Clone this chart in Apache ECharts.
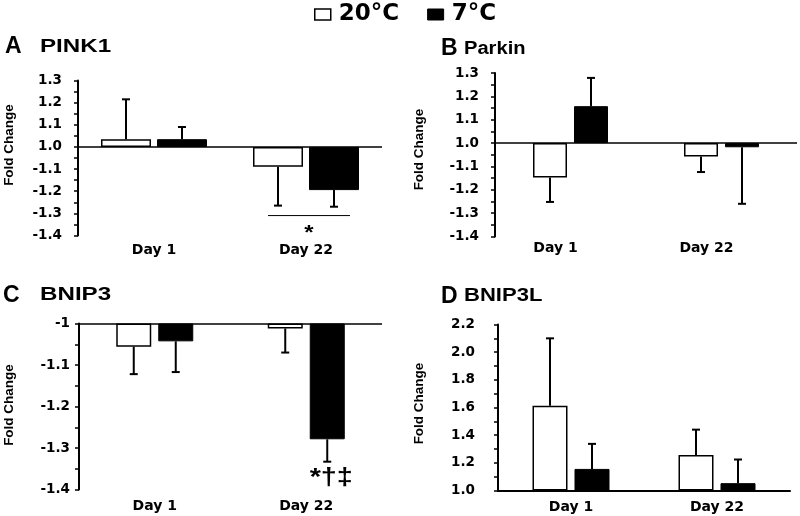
<!DOCTYPE html>
<html><head><meta charset="utf-8">
<script src="https://cdn.jsdelivr.net/npm/echarts@6/dist/echarts.min.js"></script>
<style>html,body{margin:0;padding:0;background:#fff}#c{width:800px;height:516px}</style>
</head><body><div id="c"></div>
<script>
// ---- data (fold-change values) ----
const categories = ['Day 1', 'Day 22'];
const seriesNames = ['20°C', '7°C'];

const pink1Warm = [1.035, -1.09];
const pink1WarmErr = [1.215, -1.265];
const pink1Cold = [1.035, -1.195];
const pink1ColdErr = [1.09, -1.27];

const parkinWarm = [-1.147, -1.057];
const parkinWarmErr = [-1.252, -1.124];
const parkinCold = [1.158, -1.018];
const parkinColdErr = [1.279, -1.26];

const bnip3Warm = [-1.056, -1.012];
const bnip3WarmErr = [-1.122, -1.07];
const bnip3Cold = [-1.043, -1.279];
const bnip3ColdErr = [-1.117, -1.333];

const bnip3lWarm = [1.613, 1.257];
const bnip3lWarmErr = [2.10, 1.44];
const bnip3lCold = [1.156, 1.053];
const bnip3lColdErr = [1.337, 1.224];

const tickLabelsAB = ['-1.4', '-1.3', '-1.2', '-1.1', '1.0', '1.1', '1.2', '1.3'];
const tickLabelsC = ['-1.4', '-1.3', '-1.2', '-1.1', '-1'];
const tickLabelsD = ['1.0', '1.2', '1.4', '1.6', '1.8', '2.0', '2.2'];

// significance annotations
const pink1SigLine = -1.31;
const pink1SigMark = '*';
const pink1SigMarkY = -1.375;
const bnip3SigMark = '*†‡';
const bnip3SigMarkY = -1.373;

// fold change -> linear plot position (1.0 / -1.0 both at 0)
function toPos(f) { return f >= 1 ? (f - 1) * 100 : (f + 1) * 100; }

const panels = [
  { letter: 'A', gene: 'PINK1', geneScale: 1.38, lx: 5, ly: 47, gx: 40, fc: [9, 145],
    warm: pink1Warm, warmErr: pink1WarmErr, cold: pink1Cold, coldErr: pink1ColdErr,
    ticks: tickLabelsAB, min: -40, max: 30, interval: 10,
    grid: { left: 78, top: 80.5, width: 304, height: 155 }, barWidth: 50, gapPx: 6,
    labelMargin: 16, catMargin: 8, catPad: 0, baseline: true },
  { letter: 'B', gene: 'Parkin', geneScale: 1.15, lx: 441, ly: 49, gx: 464, fc: [419, 149.5],
    warm: parkinWarm, warmErr: parkinWarmErr, cold: parkinCold, coldErr: parkinColdErr,
    ticks: tickLabelsAB, min: -40, max: 30, interval: 10,
    grid: { left: 495, top: 73, width: 302, height: 163.5 }, barWidth: 34, gapPx: 7,
    labelMargin: 16, catMargin: 5, catPad: 30, baseline: true },
  { letter: 'C', gene: 'BNIP3', geneScale: 1.38, lx: 3, ly: 295.5, gx: 40, fc: [9, 405],
    warm: bnip3Warm, warmErr: bnip3WarmErr, cold: bnip3Cold, coldErr: bnip3ColdErr,
    ticks: tickLabelsC, min: -40, max: 0, interval: 10,
    grid: { left: 79, top: 323.5, width: 303, height: 166 }, barWidth: 35, gapPx: 7,
    labelMargin: 9, catMargin: 10, catPad: 0, baseline: true },
  { letter: 'D', gene: 'BNIP3L', geneScale: 1.26, lx: 441, ly: 296.5, gx: 464, fc: [419, 403.5],
    warm: bnip3lWarm, warmErr: bnip3lWarmErr, cold: bnip3lCold, coldErr: bnip3lColdErr,
    ticks: tickLabelsD, min: 0, max: 120, interval: 20,
    grid: { left: 498, top: 324.5, width: 292, height: 166 }, barWidth: 35, gapPx: 7,
    labelMargin: 23, catMargin: 10, catPad: 0, baseline: false }
];

const grids = [], xAxes = [], yAxes = [], series = [], graphics = [];
const tickFont = { fontFamily: 'DejaVu Sans', fontWeight: 'bold', color: '#000' };

panels.forEach((p, i) => {
  grids.push(Object.assign({ containLabel: false }, p.grid));
  xAxes.push({
    type: 'category', gridIndex: i, data: categories,
    axisLine: { show: !p.baseline, onZero: false, lineStyle: { color: '#000', width: 2 } },
    axisTick: { show: false },
    axisLabel: Object.assign({ fontSize: 14, margin: p.catMargin, padding: [0, p.catPad, 0, 0] }, tickFont),
    splitLine: { show: false }
  });
  yAxes.push({
    type: 'value', gridIndex: i, min: p.min, max: p.max, interval: p.interval,
    axisLine: { show: true, lineStyle: { color: '#000', width: 2 } },
    axisTick: { show: true, length: 4, lineStyle: { color: '#000', width: 1.5 } },
    minorTick: { show: true, splitNumber: 2, length: 4, lineStyle: { color: '#000', width: 1.5 } },
    splitLine: { show: false },
    axisLabel: Object.assign({ fontSize: 13.5, margin: p.labelMargin,
      formatter: v => p.ticks[Math.round((v - p.min) / p.interval)] }, tickFont)
  });
  const warmBar = {
    type: 'bar', name: seriesNames[0], xAxisIndex: i, yAxisIndex: i,
    data: p.warm.map(toPos), barWidth: p.barWidth, barGap: (p.gapPx / p.barWidth * 100) + '%',
    itemStyle: { color: '#fff', borderColor: '#000', borderWidth: 1.5 }
  };
  if (p.baseline) {
    warmBar.markLine = {
      silent: true, symbol: ['none', 'none'], label: { show: false },
      lineStyle: { color: '#000', width: 1.5, type: 'solid' },
      data: [{ yAxis: 0 }]
    };
  }
  series.push(warmBar);
  series.push({
    type: 'bar', name: seriesNames[1], xAxisIndex: i, yAxisIndex: i,
    data: p.cold.map(toPos), barWidth: p.barWidth, barGap: (p.gapPx / p.barWidth * 100) + '%',
    itemStyle: { color: '#000', borderColor: '#000', borderWidth: 1 }
  });
  const errData = [];
  categories.forEach((c, k) => {
    errData.push([k, toPos(p.warm[k]), toPos(p.warmErr[k]), -1]);
    errData.push([k, toPos(p.cold[k]), toPos(p.coldErr[k]), 1]);
  });
  series.push({
    type: 'custom', xAxisIndex: i, yAxisIndex: i, silent: true, z: 3,
    encode: { x: 0, y: 1 }, data: errData,
    renderItem: (params, api) => {
      const c = api.value(0), m = api.value(1), e = api.value(2), s = api.value(3);
      const p0 = api.coord([c, m]), p1 = api.coord([c, e]);
      const x = p0[0] + s * (p.barWidth + p.gapPx) / 2;
      return { type: 'group', children: [
        { type: 'line', shape: { x1: x, y1: p0[1], x2: x, y2: p1[1] }, style: { stroke: '#000', lineWidth: 2 } },
        { type: 'line', shape: { x1: x - 4, y1: p1[1], x2: x + 4, y2: p1[1] }, style: { stroke: '#000', lineWidth: 2 } }
      ] };
    }
  });
  graphics.push({ type: 'text', x: p.lx, y: p.ly, style: { text: p.letter, font: 'bold 23px "Liberation Sans"', fill: '#000', textAlign: 'left', textVerticalAlign: 'middle', align: 'left', verticalAlign: 'middle' } });
  graphics.push({ type: 'text', x: p.gx, y: p.ly, scaleX: p.geneScale, style: { text: p.gene, font: 'bold 17.5px "Liberation Sans"', fill: '#000', textAlign: 'left', textVerticalAlign: 'middle', align: 'left', verticalAlign: 'middle' } });
  graphics.push({ type: 'text', x: p.fc[0], y: p.fc[1], rotation: Math.PI / 2, style: { text: 'Fold Change', font: 'bold 13.5px "Liberation Sans"', fill: '#000', textAlign: 'center', textVerticalAlign: 'middle', align: 'center', verticalAlign: 'middle' } });
});

// significance annotations (panel A: line + *, panel C: *†‡)
series.push({
  type: 'custom', xAxisIndex: 0, yAxisIndex: 0, silent: true, z: 4,
  encode: { x: 0, y: 1 }, data: [[1, toPos(pink1SigLine), toPos(pink1SigMarkY)]],
  renderItem: (params, api) => {
    const p0 = api.coord([api.value(0), api.value(1)]);
    const p1 = api.coord([api.value(0), api.value(2)]);
    return { type: 'group', children: [
      { type: 'line', shape: { x1: p0[0] - 38, y1: p0[1], x2: p0[0] + 44, y2: p0[1] }, style: { stroke: '#000', lineWidth: 1 } },
      { type: 'text', x: p0[0] + 3, y: p1[1] + 4, scaleX: 1.2, style: { text: pink1SigMark, font: 'bold 20px "Liberation Sans"', fill: '#000', textAlign: 'center', textVerticalAlign: 'middle', align: 'center', verticalAlign: 'middle' } }
    ] };
  }
});
series.push({
  type: 'custom', xAxisIndex: 2, yAxisIndex: 2, silent: true, z: 4,
  encode: { x: 0, y: 1 }, data: [[1, toPos(bnip3SigMarkY)]],
  renderItem: (params, api) => {
    const p0 = api.coord([api.value(0), api.value(1)]);
    return { type: 'text', x: p0[0] + 25, y: p0[1], scaleX: 1.2, style: { text: bnip3SigMark, font: 'bold 24px "Liberation Sans"', fill: '#000', textAlign: 'center', textVerticalAlign: 'middle', align: 'center', verticalAlign: 'middle' } };
  }
});

const chart = echarts.init(document.getElementById('c'), null, { renderer: 'canvas' });
chart.setOption({
  animation: false,
  backgroundColor: '#fff',
  legend: {
    left: 314, top: 3, padding: 0, itemWidth: 16, itemHeight: 11, itemGap: 28, icon: 'rect',
    textStyle: { fontFamily: 'DejaVu Sans', fontWeight: 'bold', fontSize: 23, color: '#000', padding: [0, 0, 0, 3] },
    data: [
      { name: seriesNames[0], itemStyle: { color: '#fff', borderColor: '#000', borderWidth: 1.5 } },
      { name: seriesNames[1], itemStyle: { color: '#000', borderColor: '#000', borderWidth: 1 } }
    ]
  },
  grid: grids, xAxis: xAxes, yAxis: yAxes, series: series, graphic: graphics
});
</script></body></html>
